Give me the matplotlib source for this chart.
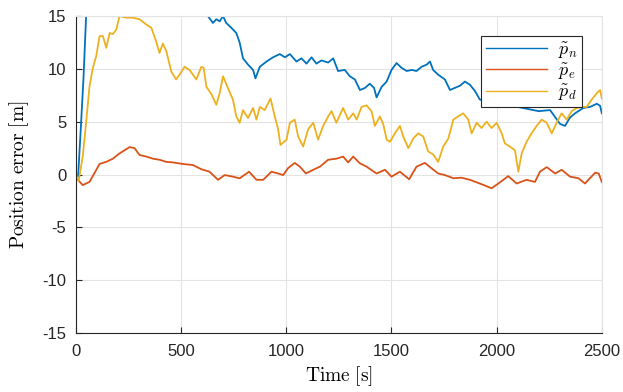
import numpy as np
import matplotlib
matplotlib.use('Agg')
import matplotlib.pyplot as plt

plt.rcParams['font.family'] = ['Liberation Sans', 'DejaVu Sans']
plt.rcParams['mathtext.fontset'] = 'cm'
plt.rcParams['axes.unicode_minus'] = False

# north error (goes off the top of the chart early on)
t_n = [0, 10, 25, 36, 48, 60, 100, 200, 300, 400, 500, 580, 610, 627, 651, 667, 683, 699, 714,
       738, 762, 778, 794, 818, 842, 853, 874, 906, 937, 969, 993, 1017, 1048, 1072, 1096,
       1120, 1143, 1167, 1199, 1223, 1246, 1278, 1302, 1326, 1350, 1374, 1397, 1417, 1429,
       1453, 1477, 1500, 1524, 1548, 1572, 1596, 1619, 1643, 1667, 1683, 1698, 1722, 1754,
       1778, 1801, 1825, 1849, 1873, 1897, 1920, 1960, 2000, 2050, 2100, 2150, 2200, 2254,
       2301, 2325, 2349, 2373, 2396, 2412, 2444, 2476, 2492, 2500]
p_n = [0.0, -0.2, 5.2, 9.3, 15.0, 19.5, 24, 27, 26, 23, 20, 16.5, 15.6, 15.0, 14.35, 14.7, 14.5,
       15.0, 14.35, 13.9, 13.4, 12.5, 11.0, 10.4, 9.9, 9.1, 10.2, 10.7, 11.1, 11.4, 11.1, 11.4,
       10.7, 11.0, 10.5, 11.1, 10.5, 10.8, 10.6, 11.0, 9.8, 9.9, 9.3, 9.0, 8.0, 8.2, 8.6, 8.2,
       7.3, 8.3, 8.8, 9.9, 10.55, 10.1, 9.8, 9.9, 9.8, 10.2, 10.4, 10.7, 9.9, 9.45, 9.0, 8.0,
       8.2, 8.4, 8.8, 8.5, 7.9, 7.1, 6.9, 6.6, 6.8, 6.4, 6.2, 6.0, 6.1, 4.8, 4.6, 5.4, 5.8,
       6.1, 6.3, 6.4, 6.7, 6.5, 5.8]

# east error
t_e = [0, 32, 64, 88, 112, 144, 175, 207, 231, 255, 278, 302, 334, 366, 397, 429, 460, 508,
       556, 596, 635, 675, 707, 746, 778, 823, 858, 890, 929, 961, 985, 1008, 1040, 1064,
       1093, 1128, 1160, 1199, 1238, 1270, 1294, 1318, 1350, 1381, 1429, 1469, 1500, 1540,
       1584, 1619, 1659, 1690, 1722, 1754, 1794, 1833, 1873, 1920, 1976, 2008, 2055, 2095,
       2142, 2182, 2206, 2238, 2278, 2309, 2349, 2389, 2420, 2468, 2485, 2500]
p_e = [-0.3, -1.0, -0.7, 0.15, 1.0, 1.2, 1.5, 2.0, 2.3, 2.6, 2.5, 1.85, 1.7, 1.5, 1.4, 1.2,
       1.15, 1.0, 0.9, 0.5, 0.27, -0.5, -0.05, -0.2, -0.36, 0.27, -0.5, -0.5, 0.27, 0.1,
       -0.05, 0.6, 1.1, 0.75, 0.1, 0.45, 0.75, 1.4, 1.5, 1.7, 1.15, 1.7, 1.06, 0.75, 0.1,
       0.45, -0.2, 0.27, -0.45, 0.75, 1.1, 0.6, 0.1, -0.05, -0.35, -0.3, -0.5, -0.85, -1.3,
       -0.85, -0.15, -0.85, -0.5, -0.7, 0.27, 0.7, 0.1, 0.45, -0.2, -0.35, -0.85, 0.17, 0.1,
       -0.7]

# down error
t_d = [0, 13, 20, 32, 48, 64, 80, 96, 112, 128, 144, 160, 175, 191, 207, 239, 270, 302, 334,
       358, 381, 397, 413, 429, 453, 476, 492, 516, 540, 572, 596, 607, 620, 644, 667, 683,
       699, 722, 746, 762, 778, 794, 818, 842, 858, 874, 897, 925, 945, 961, 972, 1001,
       1017, 1040, 1056, 1080, 1104, 1128, 1151, 1175, 1199, 1215, 1238, 1270, 1294, 1318,
       1334, 1358, 1381, 1405, 1421, 1445, 1461, 1477, 1493, 1516, 1540, 1556, 1580, 1603,
       1627, 1651, 1674, 1698, 1722, 1746, 1770, 1794, 1817, 1841, 1865, 1881, 1905, 1928,
       1952, 1976, 2000, 2024, 2039, 2063, 2087, 2103, 2119, 2142, 2166, 2190, 2214, 2238,
       2262, 2285, 2309, 2333, 2357, 2381, 2405, 2428, 2452, 2476, 2492, 2500]
p_d = [0.0, -0.6, 0.3, 1.7, 4.9, 8.3, 10.1, 11.2, 13.1, 13.1, 12.0, 13.4, 13.3, 13.7, 15.0,
       14.85, 14.85, 14.7, 14.2, 13.9, 12.6, 11.5, 12.4, 11.7, 9.75, 9.0, 9.45, 10.2, 9.9,
       9.0, 10.2, 10.1, 8.3, 7.6, 6.6, 7.7, 9.3, 8.2, 7.1, 5.5, 4.9, 6.1, 5.35, 6.3, 5.2,
       6.4, 6.1, 7.2, 5.5, 4.3, 2.8, 3.3, 4.9, 5.2, 3.6, 2.65, 4.3, 4.9, 3.3, 4.6, 5.5, 6.0,
       4.9, 6.3, 5.2, 5.8, 5.2, 6.4, 6.55, 6.0, 4.6, 5.5, 4.75, 3.3, 3.1, 3.9, 4.6, 3.6, 2.5,
       3.4, 3.9, 3.6, 2.2, 1.9, 1.2, 2.65, 3.4, 5.2, 5.5, 5.8, 5.2, 3.9, 4.9, 4.4, 5.0, 4.4,
       4.9, 3.9, 2.95, 2.65, 2.3, 0.27, 2.0, 3.1, 3.9, 4.6, 5.2, 4.9, 3.9, 4.9, 5.8, 5.2,
       6.0, 6.3, 6.4, 6.4, 7.1, 7.7, 8.0, 7.2]

fig = plt.figure(figsize=(6.23, 3.92), dpi=100)
ax = fig.add_axes([0.122, 0.1505, 0.844, 0.8085])

ax.plot(t_n, p_n, color='#0072BD', lw=1.3, label=r'$\tilde{p}_n$')
ax.plot(t_e, p_e, color='#D95319', lw=1.3, label=r'$\tilde{p}_e$')
ax.plot(t_d, p_d, color='#EDB120', lw=1.3, label=r'$\tilde{p}_d$')

ax.set_xlim(0, 2500)
ax.set_ylim(-15, 15)
ax.set_xticks([0, 500, 1000, 1500, 2000, 2500])
ax.set_yticks([-15, -10, -5, 0, 5, 10, 15])
ax.grid(True, color='#e3e3e3', lw=0.8)
ax.set_axisbelow(True)

for s in ['top', 'right']:
    ax.spines[s].set_color('#e3e3e3')
for s in ['left', 'bottom']:
    ax.spines[s].set_color('#262626')
ax.tick_params(direction='in', length=4, labelsize=12, colors='#262626', top=False, right=False)
ax.tick_params(axis='x', pad=8)
ax.tick_params(axis='y', pad=7)

ax.set_xlabel(r'$\mathrm{Time\ [s]}$', fontsize=14, labelpad=4)
ax.set_ylabel(r'$\mathrm{Position\ error\ [m]}$', fontsize=14, labelpad=8)

leg = ax.legend(loc='upper right', bbox_to_anchor=(0.963, 0.937), borderaxespad=0,
                fontsize=13, fancybox=False, framealpha=1, handlelength=3.4,
                borderpad=0.25, labelspacing=0.05, handletextpad=0.6)
leg.get_frame().set_edgecolor('#262626')
leg.get_frame().set_linewidth(0.8)
for ln in leg.get_lines():
    ln.set_linewidth(1.0)

fig.savefig('out.png', dpi=100)
